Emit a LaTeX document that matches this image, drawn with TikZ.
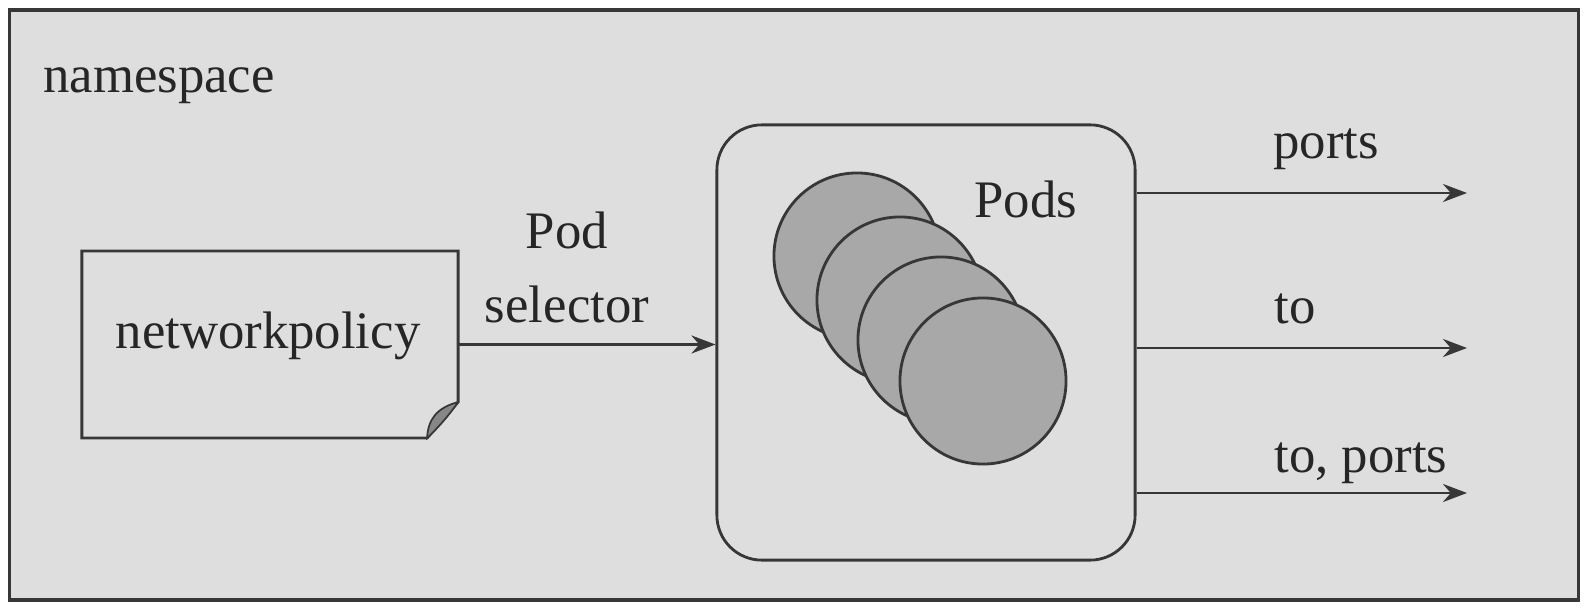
\documentclass[tikz,border=0pt]{standalone}
\usepackage{fontspec}
\setmainfont{Liberation Serif}
\usetikzlibrary{arrows.meta, positioning}
\definecolor{bggray}{RGB}{222,222,222}
\definecolor{linegray}{RGB}{55,55,55}
\definecolor{podgray}{RGB}{168,168,168}
\definecolor{foldgray}{RGB}{135,135,135}
\tikzstyle{diagram}=[x=0.01cm, y=-0.01cm, line width=0.8pt, draw=linegray, >={Stealth[length=2.4mm, width=1.8mm]}, font=\fontsize{15}{18}\selectfont]
\tikzstyle{txt}=[inner sep=0pt, text=black!85]
\tikzstyle{pod}=[circle, draw=linegray, fill=podgray, minimum size=1.66cm, inner sep=0pt]

\begin{document}
\begin{tikzpicture}[diagram]
  \useasboundingbox (0,0) rectangle (1590,612);
  \node[draw=linegray, line width=1pt, fill=bggray, minimum width=15.68cm, minimum height=5.9cm, inner sep=0pt] (ns) at (794,305) {};
  \node[txt, anchor=base west] (nslabel) at (42,92) {namespace};
  % policy document with folded corner
  \node[minimum width=3.76cm, minimum height=1.87cm, inner sep=0pt, outer sep=0pt] (policy) at (270,344.5) {};
  \coordinate (foldtop) at ([yshift=0.36cm]policy.south east);
  \coordinate (foldbot) at ([xshift=-0.31cm]policy.south east);
  \draw[linegray] (policy.north west) -- (policy.north east) -- (foldtop)
    -- (foldbot) -- (policy.south west) -- cycle;
  \filldraw[draw=linegray, fill=foldgray, line width=0.5pt] (foldtop)
    .. controls (450,414) and (438,428) .. (foldbot)
    .. controls (428,420) and (436,408) .. (foldtop);
  \node[txt, anchor=base] (ptext) at (268,348) {networkpolicy};
  % pods
  \node[draw=linegray, rounded corners=0.45cm, minimum width=4.18cm, minimum height=4.35cm, inner sep=0pt] (pods) at (926,342.5) {};
  \node[pod] (c1) at (857,256) {};
  \node[pod] (c2) at (900,300) {};
  \node[pod] (c3) at (941,340) {};
  \node[pod] (c4) at (983,381) {};
  \node[txt, anchor=base west] (podslabel) at (973,217) {Pods};
  % selector
  \node[txt, anchor=base] (sel1) at (567,248) {Pod};
  \node[txt, anchor=base] (sel2) at (567,322) {selector};
  \draw[->] (policy.east) -- (policy.east -| pods.west);
  % outputs
  \coordinate (o1) at (1467,193);
  \coordinate (o2) at (1467,348);
  \coordinate (o3) at (1467,493);
  \draw[->] (o1 -| pods.east) -- (o1);
  \draw[->] (o2 -| pods.east) -- (o2);
  \draw[->] (o3 -| pods.east) -- (o3);
  \node[txt, anchor=base west] (l1) at (1272,158) {ports};
  \node[txt, anchor=base west] (l2) at (1273,323) {to};
  \node[txt, anchor=base west] (l3) at (1273,472) {to, ports};
\end{tikzpicture}
\end{document}
